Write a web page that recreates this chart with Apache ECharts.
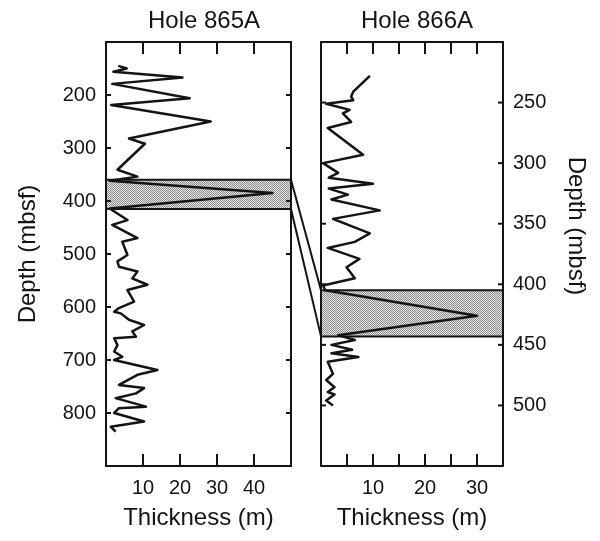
<!DOCTYPE html>
<html>
<head>
<meta charset="utf-8">
<script src="https://cdn.jsdelivr.net/npm/echarts@6/dist/echarts.min.js"></script>
<style>
  html, body { margin: 0; padding: 0; background: #fff; }
  #chart { width: 600px; height: 541px; }
</style>
</head>
<body>
<div id="chart"></div>
<script>
// Hole 865A: bed thickness (m) against depth (mbsf)
const hole865Thickness = [3.3, 5.6, 2, 20.7, 1.7, 22.6, 1.4, 28.3, 6.2, 10.5, 3.1, 8.5,
  1, 45, 1,
  1.3, 5.8, 1.7, 8.5, 4.4, 5.8, 3.1, 3.5, 8.5, 7.1, 11.2, 5.8, 7.6, 3.5, 2.2, 4, 6.2, 10.3,
  7.1, 8.1, 2.2, 3.1, 2.2, 4.4, 2.2, 13.9, 8.5, 3.5, 10.3, 8.1, 2.6, 10.8, 3.5, 2.2, 10.3, 1.3, 2.6];
const hole865Depth = [145, 150, 156, 167, 179, 206, 219, 250, 282, 292, 341, 354,
  362, 385, 414,
  417, 436, 445, 470, 477, 502, 514, 524, 533, 546, 558, 568, 590, 602, 609, 612, 624, 634,
  646, 656, 659, 672, 684, 694, 700, 719, 728, 747, 753, 763, 772, 788, 791, 800, 816, 826, 835];

// Hole 866A: bed thickness (m) against depth (mbsf)
const hole866Thickness = [9.4, 6.2, 5.8, 6.2, 1.0, 5.5, 4.2, 5.8, 1.3, 8.1, 0.4, 3.3, 1.5, 10,
  1.5, 5.2, 2, 11.3, 2.3, 9.4, 6.5, 1.3, 7.4, 4.9, 6.5, 0.4,
  0.8, 30, 3.3,
  6.5, 2, 6, 2, 7.2, 1.3, 2.3, 1, 2.6, 1.3, 2.6, 1, 2.3];
const hole866Depth = [228, 241, 245, 248, 251, 256, 259, 266, 271, 293, 300, 308, 312, 317,
  321, 326, 330, 339, 346, 358, 365, 370, 379, 386, 395, 401,
  405, 426, 442,
  446, 450, 454, 457, 460, 464, 474, 479, 485, 489, 491, 496, 500];

// Correlated thick bed (top, base) in each hole
const band865 = [360, 415];
const band866 = [405, 443];

// Axis ranges and tick positions
const depthRange865 = [100, 900];
const depthRange866 = [200, 550];
const thickRange865 = [0, 50];
const thickRange866 = [0, 35];
const depthTicks865 = [200, 300, 400, 500, 600, 700, 800];
const depthTicks866 = [250, 300, 350, 400, 450, 500];
const thickTicks865 = [10, 20, 30, 40];
const thickTicks866 = [5, 10, 15, 20, 25, 30];
const titles = ['Hole 865A', 'Hole 866A'];
const depthName = 'Depth (mbsf)';
const thickName = 'Thickness (m)';

const FONT = '"Liberation Sans", Arial, Helvetica, sans-serif';
const INK = '#141414';

// Stippled fill for the shaded bed
function stipple() {
  const c = document.createElement('canvas');
  c.width = 2; c.height = 2;
  const g = c.getContext('2d');
  g.fillStyle = '#e6e6e6'; g.fillRect(0, 0, 2, 2);
  g.fillStyle = '#8c8c8c';
  g.fillRect(0, 0, 1, 1); g.fillRect(1, 1, 1, 1);
  return c;
}
const stippleCanvas = stipple();

const zip = (xs, ys) => xs.map((x, i) => [x, ys[i]]);

const axisLine = { show: true, onZero: false, lineStyle: { color: INK, width: 2 } };
const labelStyle = { color: INK, fontSize: 20, fontFamily: FONT };

function xAxes(gridIndex, range, interval, labelFmt) {
  return [
    {
      gridIndex, type: 'value', position: 'bottom', min: range[0], max: range[1], interval,
      axisLine, splitLine: { show: false }, axisTick: { show: false },
      axisLabel: Object.assign({ margin: 12, formatter: labelFmt }, labelStyle),
      name: thickName, nameLocation: 'middle', nameGap: 40,
      nameTextStyle: { color: INK, fontSize: 24, fontFamily: FONT }
    },
    {
      gridIndex, type: 'value', position: 'top', min: range[0], max: range[1], interval,
      axisLine, splitLine: { show: false }, axisTick: { show: false },
      axisLabel: { show: false }
    }
  ];
}

function yAxes(gridIndex, range, interval, labelSide) {
  const mk = (pos, labelled) => ({
    gridIndex, type: 'value', position: pos, inverse: true, min: range[0], max: range[1], interval,
    axisLine, splitLine: { show: false }, axisTick: { show: false },
    axisLabel: labelled
      ? Object.assign({ margin: 10, showMinLabel: false, showMaxLabel: false }, labelStyle)
      : { show: false }
  });
  return labelSide === 'left' ? [mk('left', true), mk('right', false)] : [mk('left', false), mk('right', true)];
}

const leftY = yAxes(0, depthRange865, 100, 'left');
Object.assign(leftY[0], {
  name: depthName, nameLocation: 'middle', nameGap: 66,
  nameTextStyle: { color: INK, fontSize: 24, fontFamily: FONT }
});

const rightY = yAxes(1, depthRange866, 50, 'right');
Object.assign(rightY[1], {
  name: depthName, nameLocation: 'middle', nameGap: 61, nameRotate: -90,
  nameTextStyle: { color: INK, fontSize: 24, fontFamily: FONT, padding: [0, 56, 0, 0] }
});

// Normalised positions of the bed boundaries, for the connector lines between panels
const frac = (d, r) => (d - r[0]) / (r[1] - r[0]);
const connectTop = [[0, frac(band865[0], depthRange865)], [1, frac(band866[0], depthRange866)]];
const connectBase = [[0, frac(band865[1], depthRange865)], [1, frac(band866[1], depthRange866)]];

// Shaded bed drawn as a full-width rectangle in data coordinates
function bandRender(params, api) {
  const p0 = api.coord([api.value(0), api.value(1)]);
  const p1 = api.coord([api.value(2), api.value(3)]);
  return {
    type: 'rect',
    shape: { x: p0[0], y: p0[1], width: p1[0] - p0[0], height: p1[1] - p0[1] },
    style: { fill: { image: stippleCanvas, repeat: 'repeat' }, stroke: INK, lineWidth: 2 }
  };
}

// Inward tick marks on all four sides of a panel
const X_TICK_LEN = 12;
const Y_TICK_LEN = 5;
function tickSeries(axisIndex, thickRange, depthRange, thickTicks, depthTicks) {
  const xData = [];
  thickTicks.forEach(v => { xData.push([v, depthRange[0]]); xData.push([v, depthRange[1]]); });
  const yData = [];
  depthTicks.forEach(v => { yData.push([thickRange[0], v]); yData.push([thickRange[1], v]); });
  const style = { stroke: INK, lineWidth: 2 };
  return [
    {
      type: 'custom', xAxisIndex: axisIndex, yAxisIndex: axisIndex, z: 4, silent: true,
      encode: { x: 0, y: 1 }, data: xData,
      renderItem(params, api) {
        const p = api.coord([api.value(0), api.value(1)]);
        const dir = api.value(1) === depthRange[0] ? 1 : -1;
        return { type: 'line', shape: { x1: p[0], y1: p[1], x2: p[0], y2: p[1] + dir * X_TICK_LEN }, style };
      }
    },
    {
      type: 'custom', xAxisIndex: axisIndex, yAxisIndex: axisIndex, z: 4, silent: true,
      encode: { x: 0, y: 1 }, data: yData,
      renderItem(params, api) {
        const p = api.coord([api.value(0), api.value(1)]);
        const dir = api.value(0) === thickRange[0] ? 1 : -1;
        return { type: 'line', shape: { x1: p[0], y1: p[1], x2: p[0] + dir * Y_TICK_LEN, y2: p[1] }, style };
      }
    }
  ];
}

const lineStyle = { color: INK, width: 2.5, join: 'round' };

const option = {
  animation: false,
  title: [
    { text: titles[0], left: 199, top: 4, textAlign: 'center',
      textStyle: { color: INK, fontSize: 24, fontWeight: 'normal', fontFamily: FONT } },
    { text: titles[1], left: 412, top: 4, textAlign: 'center',
      textStyle: { color: INK, fontSize: 24, fontWeight: 'normal', fontFamily: FONT } }
  ],
  grid: [
    { left: 106, top: 42, width: 185, height: 424 },
    { left: 321, top: 42, width: 182, height: 424 },
    { left: 291, top: 42, width: 30, height: 424 }
  ],
  xAxis: [
    ...xAxes(0, thickRange865, 10, v => (v > 0 && v < thickRange865[1]) ? String(v) : ''),
    ...xAxes(1, thickRange866, 5, v => (v > 0 && v % 10 === 0) ? String(v) : ''),
    { gridIndex: 2, type: 'value', min: 0, max: 1, show: false }
  ],
  yAxis: [
    ...leftY,
    ...rightY,
    { gridIndex: 2, type: 'value', min: 0, max: 1, inverse: true, show: false }
  ],
  series: [
    {
      type: 'custom', xAxisIndex: 0, yAxisIndex: 0, z: 1,
      renderItem: bandRender, encode: { x: [0, 2], y: [1, 3] },
      data: [[thickRange865[0], band865[0], thickRange865[1], band865[1]]]
    },
    {
      type: 'custom', xAxisIndex: 2, yAxisIndex: 2, z: 1,
      renderItem: bandRender, encode: { x: [0, 2], y: [1, 3] },
      data: [[thickRange866[0], band866[0], thickRange866[1], band866[1]]]
    },
    ...tickSeries(0, thickRange865, depthRange865, thickTicks865, depthTicks865),
    ...tickSeries(2, thickRange866, depthRange866, thickTicks866, depthTicks866),
    {
      type: 'line', xAxisIndex: 0, yAxisIndex: 0, z: 3, symbol: 'none',
      lineStyle, data: zip(hole865Thickness, hole865Depth)
    },
    {
      type: 'line', xAxisIndex: 2, yAxisIndex: 2, z: 3, symbol: 'none',
      lineStyle, data: zip(hole866Thickness, hole866Depth)
    },
    {
      type: 'line', xAxisIndex: 4, yAxisIndex: 4, z: 3, symbol: 'none',
      lineStyle: { color: INK, width: 2 }, data: connectTop
    },
    {
      type: 'line', xAxisIndex: 4, yAxisIndex: 4, z: 3, symbol: 'none',
      lineStyle: { color: INK, width: 2 }, data: connectBase
    }
  ]
};

const chart = echarts.init(document.getElementById('chart'));
chart.setOption(option);
</script>
</body>
</html>
